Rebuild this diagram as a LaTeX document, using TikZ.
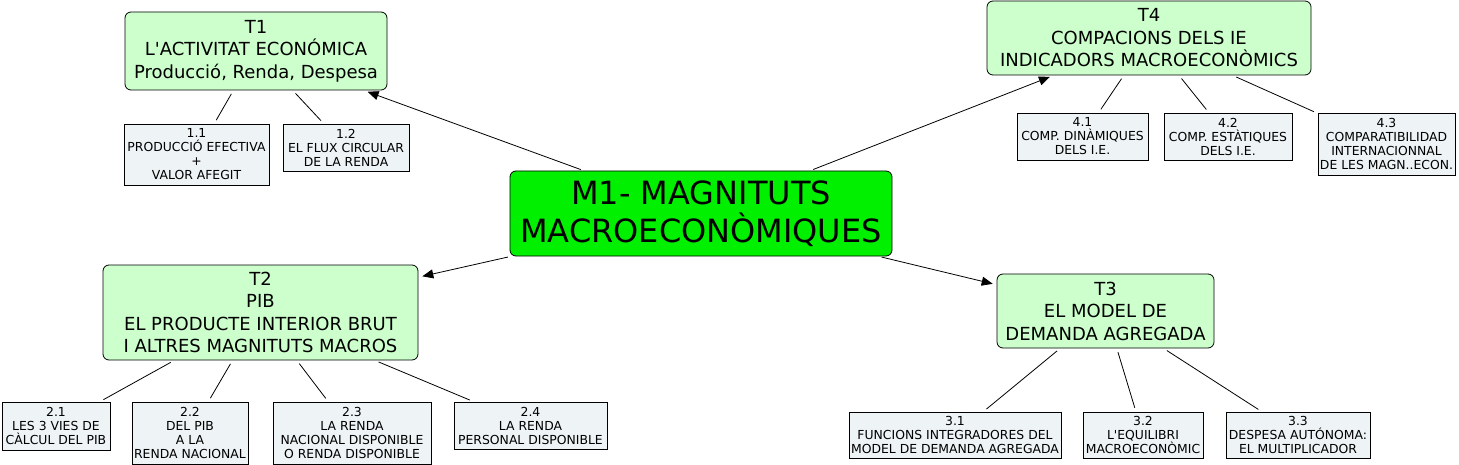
\documentclass[tikz,border=0pt]{standalone}
\usepackage{fontspec}
\setmainfont{DejaVu Sans}
\usepackage{xcolor}
\usetikzlibrary{shapes,arrows.meta,positioning}

\definecolor{verdmapa}{RGB}{0,240,0}
\definecolor{verdtema}{RGB}{204,255,204}
\definecolor{grisapartat}{RGB}{238,243,245}

\begin{document}
\begin{tikzpicture}[x=1pt, y=-1pt, line width=0.8pt]
    % Estils
    \tikzstyle{mapa}=[rectangle, rounded corners=6pt, draw=black, fill=verdmapa, align=center, inner sep=0pt, font=\fontsize{32}{38}\selectfont]
    \tikzstyle{tema}=[rectangle, rounded corners=6pt, draw=black, fill=verdtema, align=center, inner sep=0pt, font=\fontsize{18}{22.5}\selectfont]
    \tikzstyle{apartat}=[rectangle, draw=black, fill=grisapartat, align=center, inner sep=0pt, font=\fontsize{12.4}{14}\selectfont]
    \tikzstyle{fletxa}=[-{Triangle[length=11pt,width=9pt]}, shorten <=3pt, shorten >=4pt]
    \tikzstyle{lligam}=[shorten <=4pt, shorten >=4pt]

    \useasboundingbox (0,0) rectangle (1459,465);

    % Node central
    \node (m1) [mapa, minimum width=382pt, minimum height=85pt] at (701,213.5) {M1- MAGNITUTS\\MACROECONÒMIQUES};

    % Temes
    \node (t1) [tema, minimum width=262pt, minimum height=78pt] at (256,51) {T1\\L\textquotesingle ACTIVITAT ECONÓMICA\\Producció, Renda, Despesa};
    \node (t4) [tema, minimum width=324pt, minimum height=74pt] at (1149,38) {T4\\COMPACIONS DELS IE\\INDICADORS MACROECONÒMICS};
    \node (t2) [tema, minimum width=315pt, minimum height=95pt] at (260.5,312.5) {T2\\PIB\\EL PRODUCTE INTERIOR BRUT\\I ALTRES MAGNITUTS MACROS};
    \node (t3) [tema, minimum width=217pt, minimum height=74pt] at (1105.5,311) {T3\\EL MODEL DE\\DEMANDA AGREGADA};

    % Apartats
    \node (s11) [apartat, minimum width=145pt, minimum height=61pt] at (196.5,154.5) {1.1\\PRODUCCIÓ EFECTIVA\\+\\VALOR AFEGIT};
    \node (s12) [apartat, minimum width=126pt, minimum height=47pt] at (346,147.5) {1.2\\EL FLUX CIRCULAR\\DE LA RENDA};
    \node (s41) [apartat, minimum width=131pt, minimum height=47pt] at (1082.5,136.5) {4.1\\COMP. DINÀMIQUES\\DELS I.E.};
    \node (s42) [apartat, minimum width=128pt, minimum height=47pt] at (1228,136.5) {4.2\\COMP. ESTÀTIQUES\\DELS I.E.};
    \node (s43) [apartat, minimum width=137pt, minimum height=62pt] at (1386.5,144) {4.3\\COMPARATIBILIDAD\\INTERNACIONNAL\\DE LES MAGN..ECON.};
    \node (s21) [apartat, minimum width=108pt, minimum height=48pt] at (56,426) {2.1\\LES 3 VIES DE\\CÀLCUL DEL PIB};
    \node (s22) [apartat, minimum width=116pt, minimum height=62pt] at (190,433) {2.2\\DEL PIB\\A LA\\RENDA NACIONAL};
    \node (s23) [apartat, minimum width=158pt, minimum height=62pt] at (352,433) {2.3\\LA RENDA\\NACIONAL DISPONIBLE\\O RENDA DISPONIBLE};
    \node (s24) [apartat, minimum width=153pt, minimum height=47pt] at (530.5,425.5) {2.4\\LA RENDA\\PERSONAL DISPONIBLE};
    \node (s31) [apartat, minimum width=212pt, minimum height=46pt] at (955,435) {3.1\\FUNCIONS INTEGRADORES DEL\\MODEL DE DEMANDA AGREGADA};
    \node (s32) [apartat, minimum width=120pt, minimum height=46pt] at (1143,435) {3.2\\L\textquotesingle EQUILIBRI\\MACROECONÒMIC};
    \node (s33) [apartat, minimum width=144pt, minimum height=46pt] at (1298,435) {3.3\\DESPESA AUTÓNOMA:\\EL MULTIPLICADOR};

    % Fletxes
    \draw [fletxa] (m1) -- (t1);
    \draw [fletxa] (m1) -- (t4);
    \draw [fletxa] (m1) -- (t2);
    \draw [fletxa] (m1) -- (t3);

    % Lligams
    \draw [lligam] (t1) -- (s11);
    \draw [lligam] (t1) -- (s12);
    \draw [lligam] (t4) -- (s41);
    \draw [lligam] (t4) -- (s42);
    \draw [lligam] (t4) -- (s43);
    \draw [lligam] (t2) -- (s21);
    \draw [lligam] (t2) -- (s22);
    \draw [lligam] (t2) -- (s23);
    \draw [lligam] (t2) -- (s24);
    \draw [lligam] (t3) -- (s31);
    \draw [lligam] (t3) -- (s32);
    \draw [lligam] (t3) -- (s33);

\end{tikzpicture}
\end{document}
